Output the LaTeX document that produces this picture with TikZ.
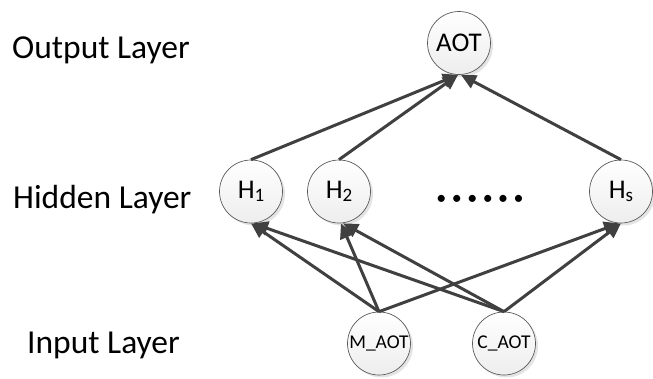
\documentclass[tikz,border=0pt]{standalone}
\usepackage{fontspec}
\setmainfont{Carlito}
\usetikzlibrary{arrows.meta,shadows}
\definecolor{edgegray}{RGB}{64,64,64}
\definecolor{rimgray}{RGB}{90,90,90}
\tikzset{
  neuron/.style={circle, minimum size=63pt, inner sep=0pt, draw=rimgray, line width=0.7pt,
    top color=white, bottom color=gray!14,
    drop shadow={shadow xshift=2.5pt, shadow yshift=-2.5pt, fill=gray!35, opacity=0.6}},
  layerlabel/.style={anchor=base west, inner sep=0pt, font=\fontsize{33.5}{36}\selectfont},
  conn/.style={draw=edgegray, line width=3pt, -{Triangle[length=15pt,width=14pt]}},
}
\newcommand{\hname}[1]{{\fontsize{27}{27}\selectfont H}\raisebox{-3pt}{\fontsize{19}{19}\selectfont #1}}
\newcommand{\bul}{•\hspace{5.5pt}}
\begin{document}
\begin{tikzpicture}[x=1pt,y=-1pt]
\useasboundingbox (0,0) rectangle (653,378);
% layer labels
\node[layerlabel] (lout) at (12,58) {Output Layer};
\node[layerlabel] (lhid) at (13,208) {Hidden Layer};
\node[layerlabel] (lin) at (27,353) {Input Layer};
% neurons
\node[neuron, font=\fontsize{27}{27}\selectfont] (AOT) at (459,43) {AOT};
\node[neuron] (H1) at (251,191.5) {\hname{1}};
\node[neuron] (H2) at (339,191.5) {\hname{2}};
\node[neuron] (Hs) at (621,191.5) {\hname{s}};
\node[neuron, font=\fontsize{19.5}{20}\selectfont] (M) at (379,343.5) {M\_AOT};
\node[neuron, font=\fontsize{19.5}{20}\selectfont] (C) at (504,343.5) {C\_AOT};
% dots
\node[font=\fontsize{20}{20}\selectfont, inner sep=0pt] (dots) at (480,200) {\bul\bul\bul\bul\bul•};
% connections
\draw[conn] (H1.north) -- ([xshift=-1pt]AOT.south);
\draw[conn] (H2.north) -- ([xshift=-1pt]AOT.south);
\draw[conn] (Hs.north) -- ([xshift=2pt]AOT.south);
\draw[conn] (M.north) -- (H1.south);
\draw[conn] (M.north) -- ([xshift=2pt]H2.south);
\draw[conn] (M.north) -- ([xshift=-2pt]Hs.south);
\draw[conn] (C.north) -- ([xshift=2pt]H1.south);
\draw[conn] (C.north) -- ([xshift=4pt]H2.south);
\draw[conn] (C.north) -- (Hs.south);
\end{tikzpicture}
\end{document}
